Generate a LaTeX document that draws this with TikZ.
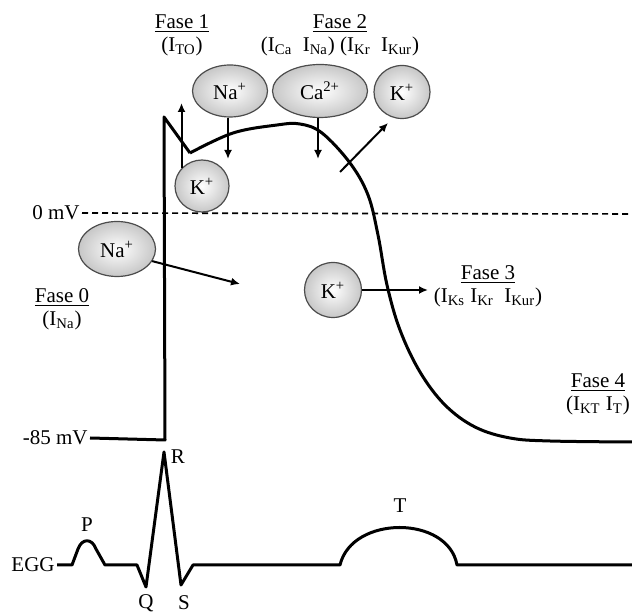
\documentclass[tikz,border=0pt]{standalone}
\usepackage{fontspec}
\setmainfont{Liberation Serif}
\usetikzlibrary{arrows.meta,shapes.geometric}
\newcommand{\curr}[1]{I\textsubscript{#1}}

\begin{document}
\begin{tikzpicture}[x=0.5pt, y=-0.5pt,
  font=\fontsize{10.5}{11.5}\selectfont,
  ion/.style={draw=black!70, line width=0.6pt, ellipse, inner sep=0pt, inner color=white, outer color=black!22},
  phase/.style={align=center, inner sep=1pt},
  wave/.style={inner sep=1pt},
  flux/.style={-{Latex[length=4.5pt, width=4pt]}, line width=1pt},
  trace/.style={line width=1.5pt, line join=round}
]
\useasboundingbox (0,0) rectangle (632,613);
\node[phase] (f1) at (182,35) {\underline{Fase 1}\\(\curr{TO})};
\node[phase] (f2) at (340,35) {\underline{Fase 2}\\(\curr{Ca}\ \ \curr{Na}) (\curr{Kr}\ \ \curr{Kur})};
\node[phase] (f0) at (62,309) {\underline{Fase 0}\\(\curr{Na})};
\node[phase] (f3) at (488,286) {\underline{Fase 3}\\(\curr{Ks} \curr{Kr}\ \ \curr{Kur})};
\node[phase] (f4) at (598,394) {\underline{Fase 4}\\(\curr{KT} \curr{T})};
\node[wave, anchor=east] (zero) at (82,213) {0 mV};
\node[wave, anchor=east] (rest) at (90,438) {-85 mV};
\node[wave, anchor=east] (egg) at (57,565) {EGG};
\node[wave] (p) at (87,525) {P};
\node[wave] (r) at (178,457) {R};
\node[wave] (q) at (146,603) {Q};
\node[wave] (s) at (184,603) {S};
\node[wave] (t) at (400,506) {T};
\node[ion, minimum width=37.5pt, minimum height=26pt] (na1) at (230,91) {Na\textsuperscript{+}};
\node[ion, minimum width=47.5pt, minimum height=26.5pt] (ca) at (320,91) {Ca\textsuperscript{2+}};
\node[ion, minimum width=28pt, minimum height=26.5pt] (k2) at (402,92) {K\textsuperscript{+}};
\node[ion, minimum width=27pt, minimum height=26pt] (k1) at (202,186) {K\textsuperscript{+}};
\node[ion, minimum width=38.5pt, minimum height=27.5pt] (na0) at (117,249) {Na\textsuperscript{+}};
\node[ion, minimum width=28.5pt, minimum height=27.5pt] (k3) at (333,290) {K\textsuperscript{+}};
\coordinate (dashend) at (632,214);
\coordinate (upstroke) at (165,440);
\coordinate (uptip) at (182,103);
\coordinate (natip) at (228,159);
\coordinate (catip) at (318,159);
\coordinate (kout) at (340,172);
\coordinate (ktip) at (388,123);
\coordinate (na0tip) at (240,284);
\coordinate (k3tip) at (428,290);
\draw[line width=0.8pt, dash pattern=on 3pt off 2pt] (zero.east) -- (dashend);
\draw[trace] (rest.east) -- (upstroke) -- (164,117) -- (190,153)
  plot[smooth, tension=0.6] coordinates {(190,153) (233,133) (277,125) (300,124) (322,133) (350,163) (368,195) (378,235) (387,285) (400,330) (420,372) (445,405) (475,427) (510,438) (550,441) (632,442)};
\draw[trace] (egg.east) -- (72,565) -- (78,549) .. controls (82,538) and (92,538) .. (96,549) -- (105,565)
  -- (137,565) -- (146,587) -- (164,452) -- (181,585) -- (193,565) -- (340,565)
  .. controls (352,515) and (448,515) .. (457,565) -- (632,565);
\draw[flux] (k1.139) -- (k1.139 |- uptip);
\draw[flux] (na1.south -| natip) -- (natip);
\draw[flux] (ca.south -| catip) -- (catip);
\draw[flux] (kout) -- (ktip);
\draw[flux] (na0.-19) -- (na0tip);
\draw[flux] (k3.east) -- (k3tip);
\end{tikzpicture}
\end{document}
